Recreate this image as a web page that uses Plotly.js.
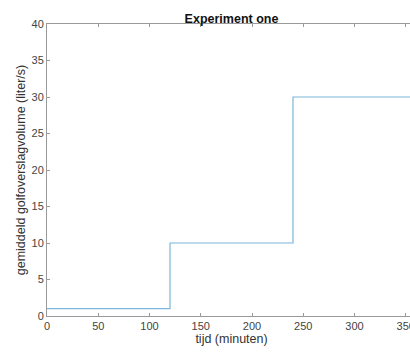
<!DOCTYPE html>
<html>
<head>
<meta charset="utf-8">
<script src="https://cdn.plot.ly/plotly-3.0.1.min.js"></script>
<style>
html,body{margin:0;padding:0;overflow:hidden;background:#fff;}
#chart{width:420px;height:354px;}
</style>
</head>
<body>
<div id="chart"></div>
<script>
// Step data: time (minutes) and mean overtopping volume (liter/s)
const timeMin = [0, 120, 240, 360];
const volume = [1, 10, 30, 30];
const xTicks = [0, 50, 100, 150, 200, 250, 300, 350];
const yTicks = [0, 5, 10, 15, 20, 25, 30, 35, 40];

const axisColor = '#9a9a9a';
const fam = 'Liberation Sans, Arial, sans-serif';
const tickFont = {family: fam, size: 11, color: '#444'};
const labelFont = {family: fam, size: 12.5, color: '#333'};

Plotly.newPlot('chart', [{
  x: timeMin,
  y: volume,
  type: 'scatter',
  mode: 'lines',
  line: {shape: 'hv', color: '#7db6da', width: 1.2},
  hoverinfo: 'none'
}], {
  width: 420,
  height: 354,
  margin: {l: 47, r: 4, t: 24, b: 38},
  paper_bgcolor: '#fff',
  plot_bgcolor: '#fff',
  showlegend: false,
  title: {
    text: '<b>Experiment one</b>',
    font: {family: fam, size: 12.5, color: '#111'},
    x: 0.5, xref: 'paper', y: 1, yref: 'paper', yanchor: 'bottom', pad: {b: 1}
  },
  xaxis: {
    range: [0, 360],
    tickvals: xTicks,
    ticks: 'inside', ticklen: 3, tickcolor: axisColor,
    showline: true, linecolor: axisColor, linewidth: 1, mirror: 'ticks',
    showgrid: false, zeroline: false,
    tickfont: tickFont,
    title: {text: 'tijd (minuten)', font: labelFont, standoff: 1}
  },
  yaxis: {
    range: [0, 40],
    tickvals: yTicks,
    ticks: 'inside', ticklen: 3, tickcolor: axisColor,
    showline: true, linecolor: axisColor, linewidth: 1, mirror: 'ticks',
    showgrid: false, zeroline: false,
    tickfont: tickFont,
    title: {text: 'gemiddeld golfoverslagvolume (liter/s)', font: labelFont, standoff: 3}
  }
}, {staticPlot: true});
</script>
</body>
</html>
